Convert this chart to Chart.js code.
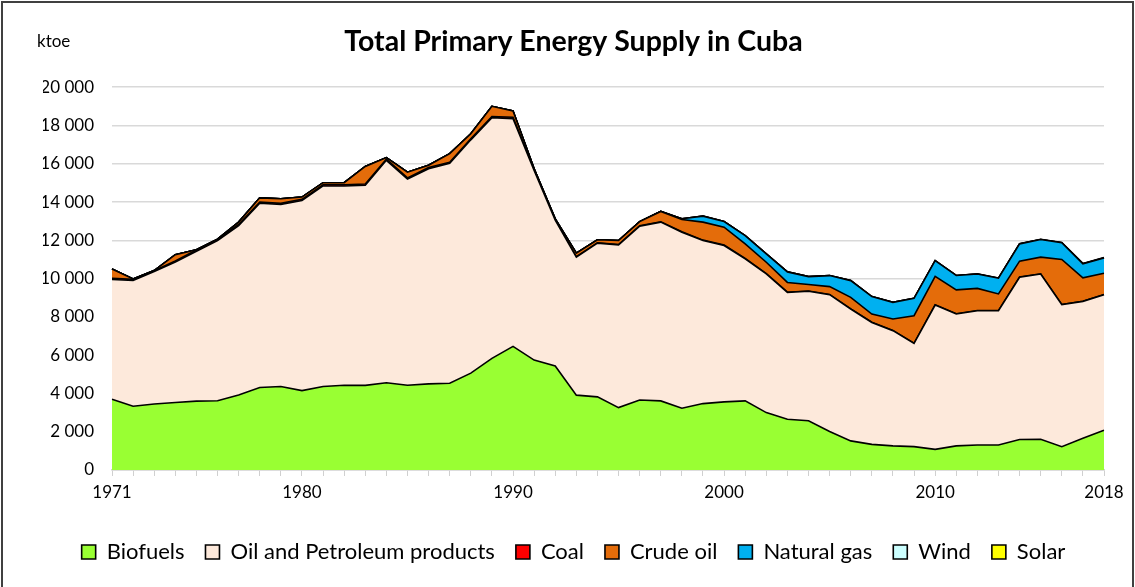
<!DOCTYPE html>
<html>
<head>
<meta charset="utf-8">
<script src="https://cdn.jsdelivr.net/npm/chart.js@4.4.1/dist/chart.umd.min.js"></script>
<style>
  html, body { margin: 0; padding: 0; background: #fff; overflow: hidden; }
  #frame { position: absolute; left: 1px; top: 1px; width: 1133px; height: 700px; border: 2px solid #404040; box-sizing: border-box; }
  #wrap { position: absolute; left: 0; top: 0; width: 1135px; height: 587px; }
</style>
</head>
<body>
<div id="frame"></div>
<div id="wrap"><canvas id="chart-tpes"></canvas></div>
<script>
// ── Data (ktoe)
const years = [];
for (let y = 1971; y <= 2018; y++) years.push(String(y));

const shownYears = ['1971', '1980', '1990', '2000', '2010', '2018'];

const biofuels = [
  3700, 3330, 3450, 3530, 3600, 3620, 3920, 4310, 4360, 4150,
  4360, 4430, 4420, 4560, 4430, 4500, 4530, 5060, 5830, 6460,
  5740, 5430, 3910, 3820, 3260, 3660, 3610, 3230, 3470, 3560,
  3610, 3000, 2650, 2570, 2010, 1520, 1340, 1260, 1220, 1080,
  1260, 1310, 1310, 1590, 1610, 1220, 1660, 2080
];

const oilProducts = [
  6250, 6570, 6920, 7330, 7830, 8370, 8850, 9630, 9510, 9930,
  10480, 10410, 10460, 11620, 10770, 11240, 11490, 12190, 12580, 11900,
  9910, 7620, 7210, 8030, 8500, 9080, 9340, 9195, 8520, 8170,
  7420, 7245, 6630, 6770, 7150, 6890, 6370, 6020, 5390, 7540,
  6890, 7010, 7010, 8480, 8630, 7420, 7150, 7080
];

const coal = [
  60, 60, 40, 60, 60, 60, 60, 60, 60, 60,
  60, 60, 60, 60, 60, 60, 60, 60, 60, 70,
  40, 30, 20, 20, 20, 20, 20, 20, 20, 20,
  20, 10, 10, 10, 10, 10, 10, 10, 10, 10,
  10, 10, 10, 10, 10, 10, 10, 10
];

const crudeOil = [
  490, 20, 10, 330, 20, 10, 120, 220, 240, 120,
  110, 110, 920, 80, 300, 120, 450, 260, 530, 330,
  50, 40, 190, 160, 210, 220, 540, 645, 940, 940,
  765, 600, 510, 340, 410, 600, 430, 600, 1440, 1490,
  1250, 1160, 870, 830, 870, 2350, 1220, 1110
];

const naturalGas = [
  0, 0, 0, 0, 0, 0, 0, 0, 0, 0,
  0, 0, 0, 0, 0, 0, 0, 0, 0, 0,
  0, 0, 0, 0, 0, 0, 0, 35, 315, 295,
  435, 435, 550, 415, 577, 875, 910, 870, 910, 820,
  750, 750, 820, 905, 920, 870, 730, 800
];

const wind = [
  0, 0, 0, 0, 0, 0, 0, 0, 0, 0,
  0, 0, 0, 0, 0, 0, 0, 0, 0, 0,
  0, 0, 0, 0, 0, 0, 0, 0, 0, 0,
  0, 0, 0, 0, 0, 0, 0, 1, 1, 1,
  2, 2, 2, 2, 2, 2, 2, 2
];

const solar = [
  0, 0, 0, 0, 0, 0, 0, 0, 0, 0,
  0, 0, 0, 0, 0, 0, 0, 0, 0, 0,
  0, 0, 0, 0, 0, 0, 0, 0, 0, 0,
  0, 0, 0, 0, 0, 0, 0, 0, 0, 0,
  1, 2, 4, 6, 9, 15, 20, 25
];

const FONT = 'Lato, "Open Sans", sans-serif';

function area(label, data, color, first) {
  return {
    label, data,
    backgroundColor: color,
    borderColor: '#000',
    borderWidth: 1.6,
    pointRadius: 0,
    tension: 0,
    fill: first ? 'origin' : '-1',
  };
}

// ── "ktoe" unit label in the upper-left corner
const unitLabel = {
  id: 'unitLabel',
  afterDraw(chart) {
    const c = chart.ctx;
    c.save();
    c.font = '17px ' + FONT;
    c.fillStyle = '#000';
    c.textBaseline = 'middle';
    c.fillText('ktoe', 37, 42);
    c.restore();
  }
};

new Chart(document.getElementById('chart-tpes'), {
  type: 'line',
  data: {
    labels: years,
    datasets: [
      area('Biofuels', biofuels, '#99ff33', true),
      area('Oil and Petroleum products', oilProducts, '#fde9db'),
      area('Coal', coal, '#ff0000'),
      area('Crude oil', crudeOil, '#e46c0a'),
      area('Natural gas', naturalGas, '#00b0f0'),
      area('Wind', wind, '#ccffff'),
      area('Solar', solar, '#ffff00'),
    ]
  },
  options: {
    responsive: true,
    maintainAspectRatio: false,
    animation: false,
    layout: { padding: { top: 25, left: 43, right: 31, bottom: 14 } },
    plugins: {
      title: {
        display: true,
        text: 'Total Primary Energy Supply in Cuba',
        color: '#000',
        font: { family: FONT, size: 28.5, weight: 'bold', lineHeight: 1.2 },
        padding: { top: 0, bottom: 28 },
      },
      legend: {
        position: 'bottom',
        labels: {
          color: '#000',
          font: { family: FONT, size: 22 },
          boxWidth: 14,
          boxHeight: 14,
          padding: 21,
        }
      },
      tooltip: { enabled: false },
    },
    scales: {
      x: {
        offset: false,
        grid: { drawOnChartArea: false, drawTicks: true, tickLength: 6, color: '#d0d0d0' },
        border: { color: '#d0d0d0', width: 1.5 },
        ticks: {
          autoSkip: false, maxRotation: 0, color: '#000', padding: 6,
          font: { family: FONT, size: 17 },
          callback: function (v) {
            const y = this.getLabelForValue(v);
            return shownYears.includes(y) ? y : '';
          }
        },
        afterFit: s => { s.height = 50; },
      },
      y: {
        stacked: true,
        min: 0, max: 20000,
        grid: { color: '#d9d9d9', lineWidth: 1.5, drawTicks: false },
        border: { display: false },
        ticks: {
          stepSize: 2000, color: '#000', padding: 18,
          font: { family: FONT, size: 17 },
          callback: v => String(v).replace(/\B(?=(\d{3})+(?!\d))/g, ' '),
        },
        afterFit: s => { s.width = 69; },
      }
    }
  },
  plugins: [unitLabel]
});
</script>
</body>
</html>
